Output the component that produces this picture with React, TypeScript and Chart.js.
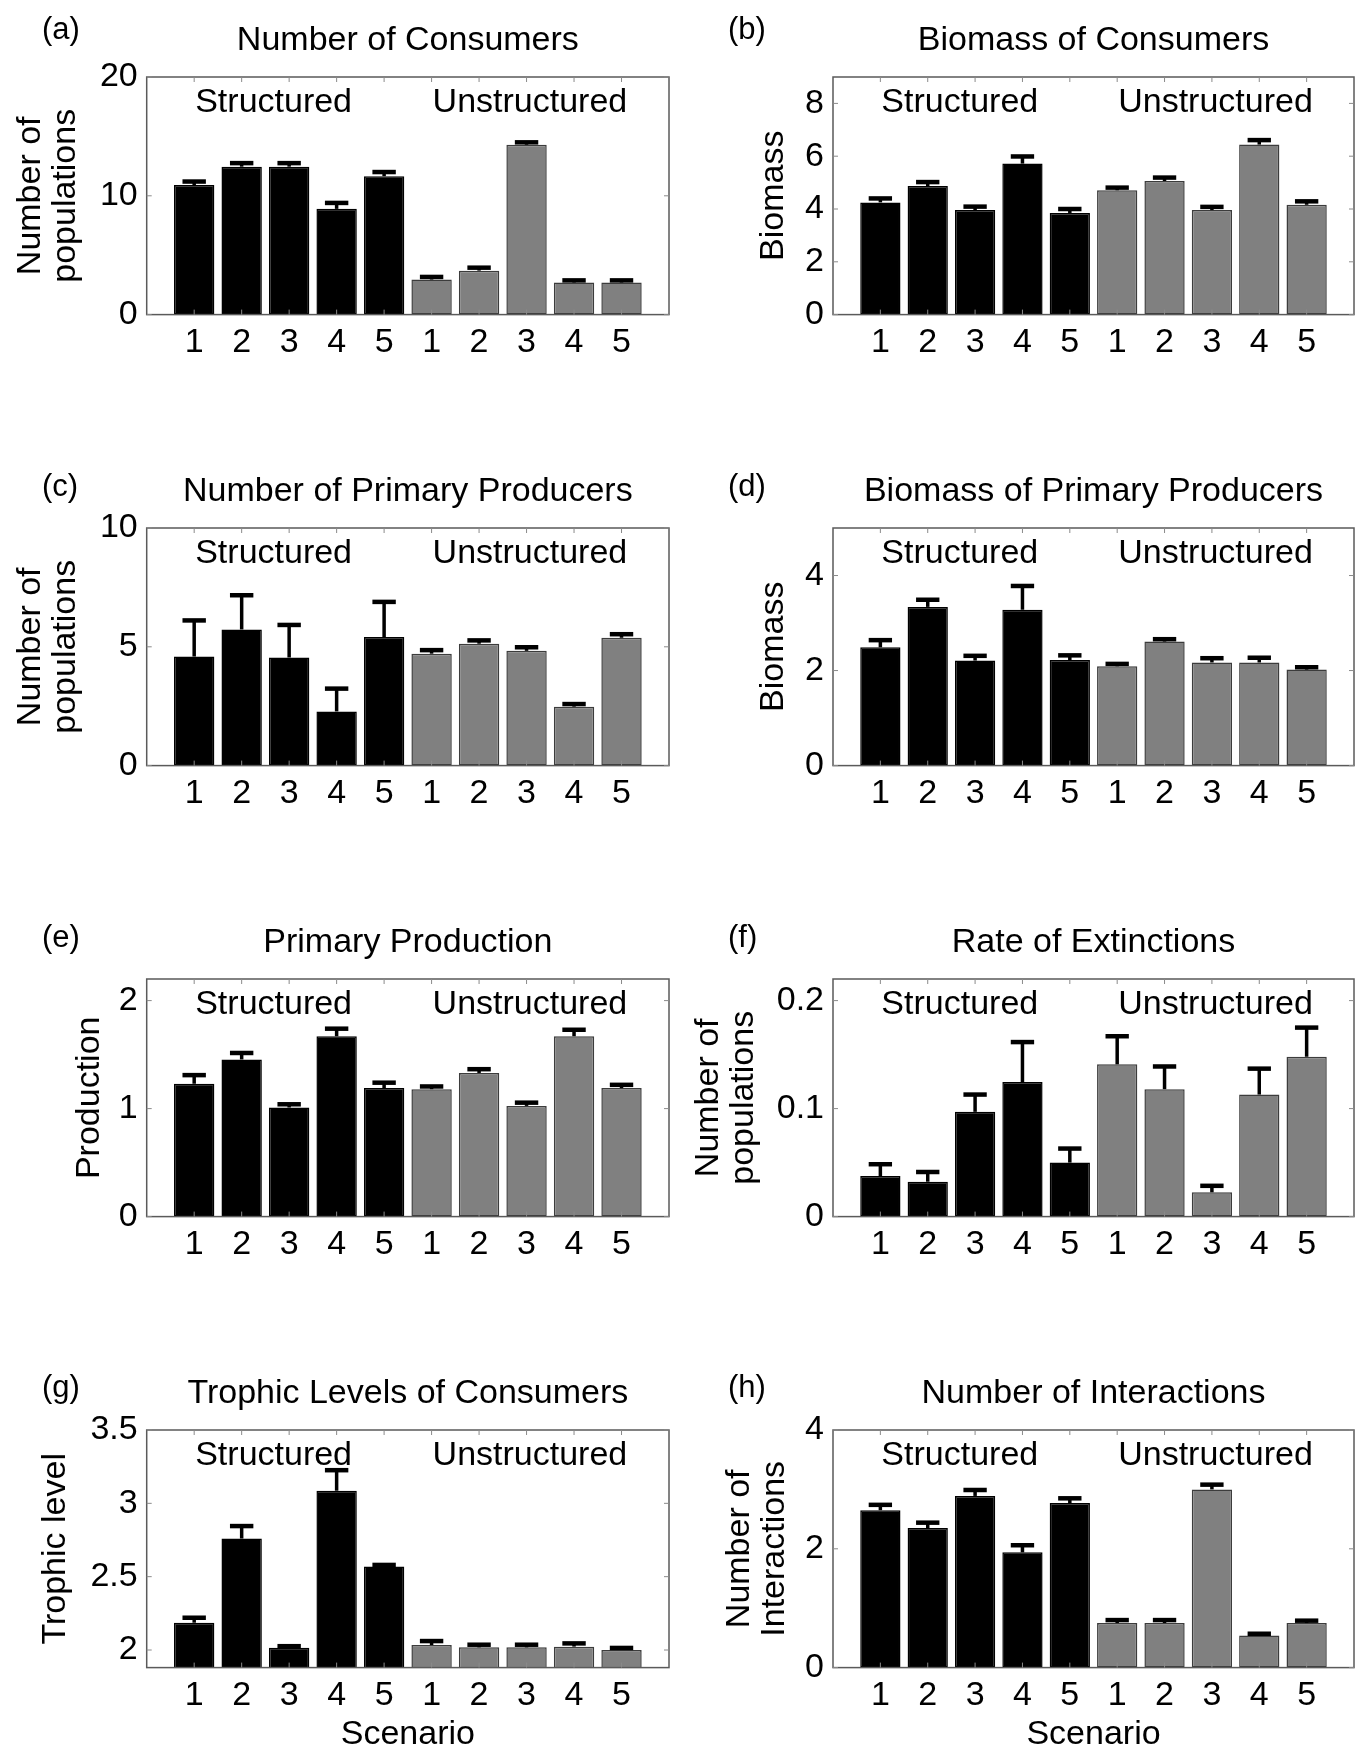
import React, { useEffect, useRef } from 'react';
import { Chart, registerables } from 'chart.js';
Chart.register(...registerables);

// ---------- data ----------
const xLabels = ['1', '2', '3', '4', '5', '1', '2', '3', '4', '5'];
const groupLabels = ['Structured', 'Unstructured'];
const groupStart = [1, 6];

const consumersNum = [10.9, 12.45, 12.45, 8.9, 11.65, 2.95, 3.7, 14.3, 2.7, 2.7];
const consumersNumErr = [0.3, 0.3, 0.3, 0.5, 0.35, 0.22, 0.25, 0.2, 0.18, 0.18];

const consumersBio = [4.25, 4.87, 3.96, 5.72, 3.85, 4.71, 5.06, 3.96, 6.44, 4.16];
const consumersBioErr = [0.15, 0.15, 0.13, 0.27, 0.15, 0.1, 0.13, 0.12, 0.17, 0.13];

const producersNum = [4.59, 5.73, 4.55, 2.28, 5.41, 4.71, 5.13, 4.83, 2.48, 5.38];
const producersNumErr = [1.52, 1.44, 1.37, 0.96, 1.48, 0.15, 0.14, 0.15, 0.11, 0.15];

const producersBio = [2.49, 3.34, 2.21, 3.28, 2.22, 2.09, 2.61, 2.17, 2.17, 2.02];
const producersBioErr = [0.15, 0.15, 0.1, 0.5, 0.1, 0.05, 0.05, 0.09, 0.1, 0.05];

const production = [1.23, 1.455, 1.01, 1.67, 1.19, 1.18, 1.33, 1.025, 1.67, 1.19];
const productionErr = [0.08, 0.06, 0.03, 0.07, 0.05, 0.025, 0.035, 0.03, 0.06, 0.03];

const extinctions = [0.0375, 0.0323, 0.097, 0.1246, 0.05, 0.141, 0.118, 0.0225, 0.113, 0.148];
const extinctionsErr = [0.011, 0.009, 0.016, 0.037, 0.013, 0.026, 0.021, 0.006, 0.024, 0.027];

const trophic = [2.186, 2.76, 2.016, 3.086, 2.57, 2.034, 2.018, 2.018, 2.023, 2.0];
const trophicErr = [0.034, 0.085, 0.01, 0.14, 0.01, 0.027, 0.018, 0.018, 0.022, 0.014];

const interactions = [2.65, 2.35, 2.89, 1.94, 2.77, 0.75, 0.75, 3.0, 0.54, 0.75];
const interactionsErr = [0.09, 0.09, 0.1, 0.12, 0.08, 0.05, 0.05, 0.08, 0.03, 0.04];

const ticksA = [0, 10, 20];
const ticksB = [0, 2, 4, 6, 8];
const ticksC = [0, 5, 10];
const ticksD = [0, 2, 4];
const ticksE = [0, 1, 2];
const ticksF = [0, 0.1, 0.2];
const ticksG = [2, 2.5, 3, 3.5];
const ticksH = [0, 2, 4];

const tickLabelsA = ['0', '10', '20'];
const tickLabelsB = ['0', '2', '4', '6', '8'];
const tickLabelsC = ['0', '5', '10'];
const tickLabelsD = ['0', '2', '4'];
const tickLabelsE = ['0', '1', '2'];
const tickLabelsF = ['0', '0.1', '0.2'];
const tickLabelsG = ['2', '2.5', '3', '3.5'];
const tickLabelsH = ['0', '2', '4'];

// ---------- panels ----------
type PanelCfg = {
  letter: string;
  title: string;
  yTitle: string | string[];
  values: number[];
  errors: number[];
  yMin: number;
  yMax: number;
  yTicks: number[];
  yTickLabels: string[];
  row: number;
  col: number;
  yTitleOffset: number;
  showXTitle?: boolean;
};

const panels: PanelCfg[] = [
  { letter: '(a)', title: 'Number of Consumers', yTitle: ['Number of', 'populations'], values: consumersNum, errors: consumersNumErr, yMin: 0, yMax: 20, yTicks: ticksA, yTickLabels: tickLabelsA, row: 0, col: 0, yTitleOffset: 13 },
  { letter: '(b)', title: 'Biomass of Consumers', yTitle: 'Biomass', values: consumersBio, errors: consumersBioErr, yMin: 0, yMax: 9, yTicks: ticksB, yTickLabels: tickLabelsB, row: 0, col: 1, yTitleOffset: 78 },
  { letter: '(c)', title: 'Number of Primary Producers', yTitle: ['Number of', 'populations'], values: producersNum, errors: producersNumErr, yMin: 0, yMax: 10, yTicks: ticksC, yTickLabels: tickLabelsC, row: 1, col: 0, yTitleOffset: 13 },
  { letter: '(d)', title: 'Biomass of Primary Producers', yTitle: 'Biomass', values: producersBio, errors: producersBioErr, yMin: 0, yMax: 5, yTicks: ticksD, yTickLabels: tickLabelsD, row: 1, col: 1, yTitleOffset: 78 },
  { letter: '(e)', title: 'Primary Production', yTitle: 'Production', values: production, errors: productionErr, yMin: 0, yMax: 2.2, yTicks: ticksE, yTickLabels: tickLabelsE, row: 2, col: 0, yTitleOffset: 72 },
  { letter: '(f)', title: 'Rate of Extinctions', yTitle: ['Number of', 'populations'], values: extinctions, errors: extinctionsErr, yMin: 0, yMax: 0.22, yTicks: ticksF, yTickLabels: tickLabelsF, row: 2, col: 1, yTitleOffset: 13 },
  { letter: '(g)', title: 'Trophic Levels of Consumers', yTitle: 'Trophic level', values: trophic, errors: trophicErr, yMin: 1.88, yMax: 3.5, yTicks: ticksG, yTickLabels: tickLabelsG, row: 3, col: 0, yTitleOffset: 38, showXTitle: true },
  { letter: '(h)', title: 'Number of Interactions', yTitle: ['Number of', 'Interactions'], values: interactions, errors: interactionsErr, yMin: 0, yMax: 4, yTicks: ticksH, yTickLabels: tickLabelsH, row: 3, col: 1, yTitleOffset: 44, showXTitle: true },
];

// ---------- layout ----------
const FONT = 'Liberation Sans, Arial, sans-serif';
const FS = 34;
const TEXT_COLOR = '#000';
const COL_W = 678;
const ROW_TOPS = [0, 451, 902, 1353];
const ROW_H = [451, 451, 451, 401];
const AREA_TOP = 77;
const AREA_H = 237.6;
const COL_AREA_LEFT = [146.7, 155];
const COL_PAD_RIGHT = [9, 2];
const LETTER_X = [42, 50];
const LETTER_BASE = [39, 45, 45, 44];

const BLACK = '#000000';
const GRAY = '#808080';

const decorPlugin = {
  id: 'panelDecor',
  afterDatasetsDraw(chart: any) {
    const cfg: PanelCfg = chart.options.plugins.panelDecor.cfg;
    const ctx = chart.ctx;
    const meta = chart.getDatasetMeta(0);
    const y = chart.scales.y;
    ctx.save();
    ctx.strokeStyle = '#000';
    ctx.lineCap = 'butt';
    meta.data.forEach((el: any, i: number) => {
      const v = cfg.values[i];
      const e = cfg.errors[i];
      const yBar = y.getPixelForValue(v);
      const yTop = y.getPixelForValue(v + e);
      const capW = el.width * 0.58;
      ctx.lineWidth = 3.5;
      ctx.beginPath();
      ctx.moveTo(el.x, yBar);
      ctx.lineTo(el.x, yTop);
      ctx.stroke();
      ctx.lineWidth = 4.5;
      ctx.beginPath();
      ctx.moveTo(el.x - capW / 2, yTop);
      ctx.lineTo(el.x + capW / 2, yTop);
      ctx.stroke();
    });
    ctx.restore();
  },
  afterDraw(chart: any) {
    const cfg: PanelCfg = chart.options.plugins.panelDecor.cfg;
    const ctx = chart.ctx;
    const a = chart.chartArea;
    const x = chart.scales.x;
    const y = chart.scales.y;
    ctx.save();
    // box
    ctx.strokeStyle = '#5a5a5a';
    ctx.lineWidth = 1.5;
    ctx.strokeRect(a.left, a.top, a.right - a.left, a.bottom - a.top);
    // inner tick marks
    ctx.strokeStyle = '#8a8a8a';
    ctx.lineWidth = 1;
    ctx.beginPath();
    for (let i = 1; i <= xLabels.length; i++) {
      const px = x.getPixelForValue(i);
      ctx.moveTo(px, a.top);
      ctx.lineTo(px, a.top + 5);
      ctx.moveTo(px, a.bottom);
      ctx.lineTo(px, a.bottom - 5);
    }
    cfg.yTicks.forEach((t) => {
      const py = y.getPixelForValue(t);
      ctx.moveTo(a.left, py);
      ctx.lineTo(a.left + 5, py);
      ctx.moveTo(a.right, py);
      ctx.lineTo(a.right - 5, py);
    });
    ctx.stroke();
    // texts
    ctx.fillStyle = TEXT_COLOR;
    ctx.textBaseline = 'alphabetic';
    ctx.font = `${FS}px ${FONT}`;
    ctx.textAlign = 'center';
    ctx.fillText(cfg.title, (a.left + a.right) / 2, 50);
    ctx.textAlign = 'left';
    groupLabels.forEach((g, i) => {
      ctx.fillText(g, x.getPixelForValue(groupStart[i]) + 1, a.top + 35);
    });
    ctx.font = `31px ${FONT}`;
    ctx.fillText(cfg.letter, LETTER_X[cfg.col], LETTER_BASE[cfg.row]);
    ctx.restore();
  },
};

function Panel({ cfg }: { cfg: PanelCfg }) {
  const ref = useRef<HTMLCanvasElement>(null);
  useEffect(() => {
    const canvas = ref.current!;
    const H = ROW_H[cfg.row];
    const areaLeft = COL_AREA_LEFT[cfg.col];
    const xAxisH = H - (AREA_TOP + AREA_H);
    const chart = new Chart(canvas, {
      type: 'bar',
      data: {
        datasets: [
          {
            data: cfg.values.map((v, i) => ({ x: i + 1, y: v })),
            backgroundColor: cfg.values.map((_, i) => (i < 5 ? BLACK : GRAY)),
            borderColor: cfg.values.map((_, i) => (i < 5 ? BLACK : '#3c3c3c')),
            borderWidth: 1.5,
            borderSkipped: false,
            barPercentage: 0.85,
            categoryPercentage: 1,
            clip: 0,
          } as any,
        ],
      },
      options: {
        animation: false,
        responsive: false,
        maintainAspectRatio: false,
        devicePixelRatio: 1,
        layout: { padding: { top: AREA_TOP, left: 0, right: COL_PAD_RIGHT[cfg.col], bottom: 0 } },
        plugins: {
          legend: { display: false },
          tooltip: { enabled: false },
          title: { display: false },
          panelDecor: { cfg },
        } as any,
        scales: {
          x: {
            type: 'linear',
            offset: false,
            min: 0,
            max: xLabels.length + 1,
            grid: { display: false, drawTicks: false, offset: false },
            border: { display: false },
            afterBuildTicks: (s: any) => {
              s.ticks = xLabels.map((_, i) => ({ value: i + 1 }));
            },
            afterFit: (s: any) => {
              s.height = xAxisH;
            },
            ticks: {
              autoSkip: false,
              maxRotation: 0,
              padding: 8,
              color: TEXT_COLOR,
              font: { family: FONT, size: FS },
              callback: (v: any) => xLabels[Math.round(Number(v)) - 1] ?? '',
            },
            title: {
              display: !!cfg.showXTitle,
              text: 'Scenario',
              color: TEXT_COLOR,
              font: { family: FONT, size: FS, lineHeight: 1 },
              padding: { top: 0, bottom: 2 },
            },
          },
          y: {
            type: 'linear',
            min: cfg.yMin,
            max: cfg.yMax,
            grid: { display: false, drawTicks: false },
            border: { display: false },
            afterBuildTicks: (s: any) => {
              s.ticks = cfg.yTicks.map((t) => ({ value: t }));
            },
            afterFit: (s: any) => {
              s.width = areaLeft;
            },
            ticks: {
              padding: 9,
              color: TEXT_COLOR,
              font: { family: FONT, size: FS },
              callback: (v: any) => {
                const idx = cfg.yTicks.findIndex((t) => Math.abs(t - Number(v)) < 1e-9);
                return idx >= 0 ? cfg.yTickLabels[idx] : '';
              },
            },
            title: {
              display: true,
              text: cfg.yTitle,
              color: TEXT_COLOR,
              font: { family: FONT, size: FS, lineHeight: 1.03 },
              padding: { top: cfg.yTitleOffset, bottom: 0 },
            },
          },
        },
      } as any,
      plugins: [decorPlugin],
    });
    return () => chart.destroy();
  }, [cfg]);
  return (
    <canvas
      ref={ref}
      width={COL_W}
      height={ROW_H[cfg.row]}
      style={{
        position: 'absolute',
        left: cfg.col * COL_W,
        top: ROW_TOPS[cfg.row],
        width: COL_W,
        height: ROW_H[cfg.row],
      }}
    />
  );
}

export default function App() {
  return (
    <div
      style={{
        position: 'absolute',
        left: 0,
        top: 0,
        width: 1356,
        height: 1754,
        overflow: 'hidden',
        background: '#fff',
      }}
    >
      {panels.map((p) => (
        <Panel key={p.letter} cfg={p} />
      ))}
    </div>
  );
}
